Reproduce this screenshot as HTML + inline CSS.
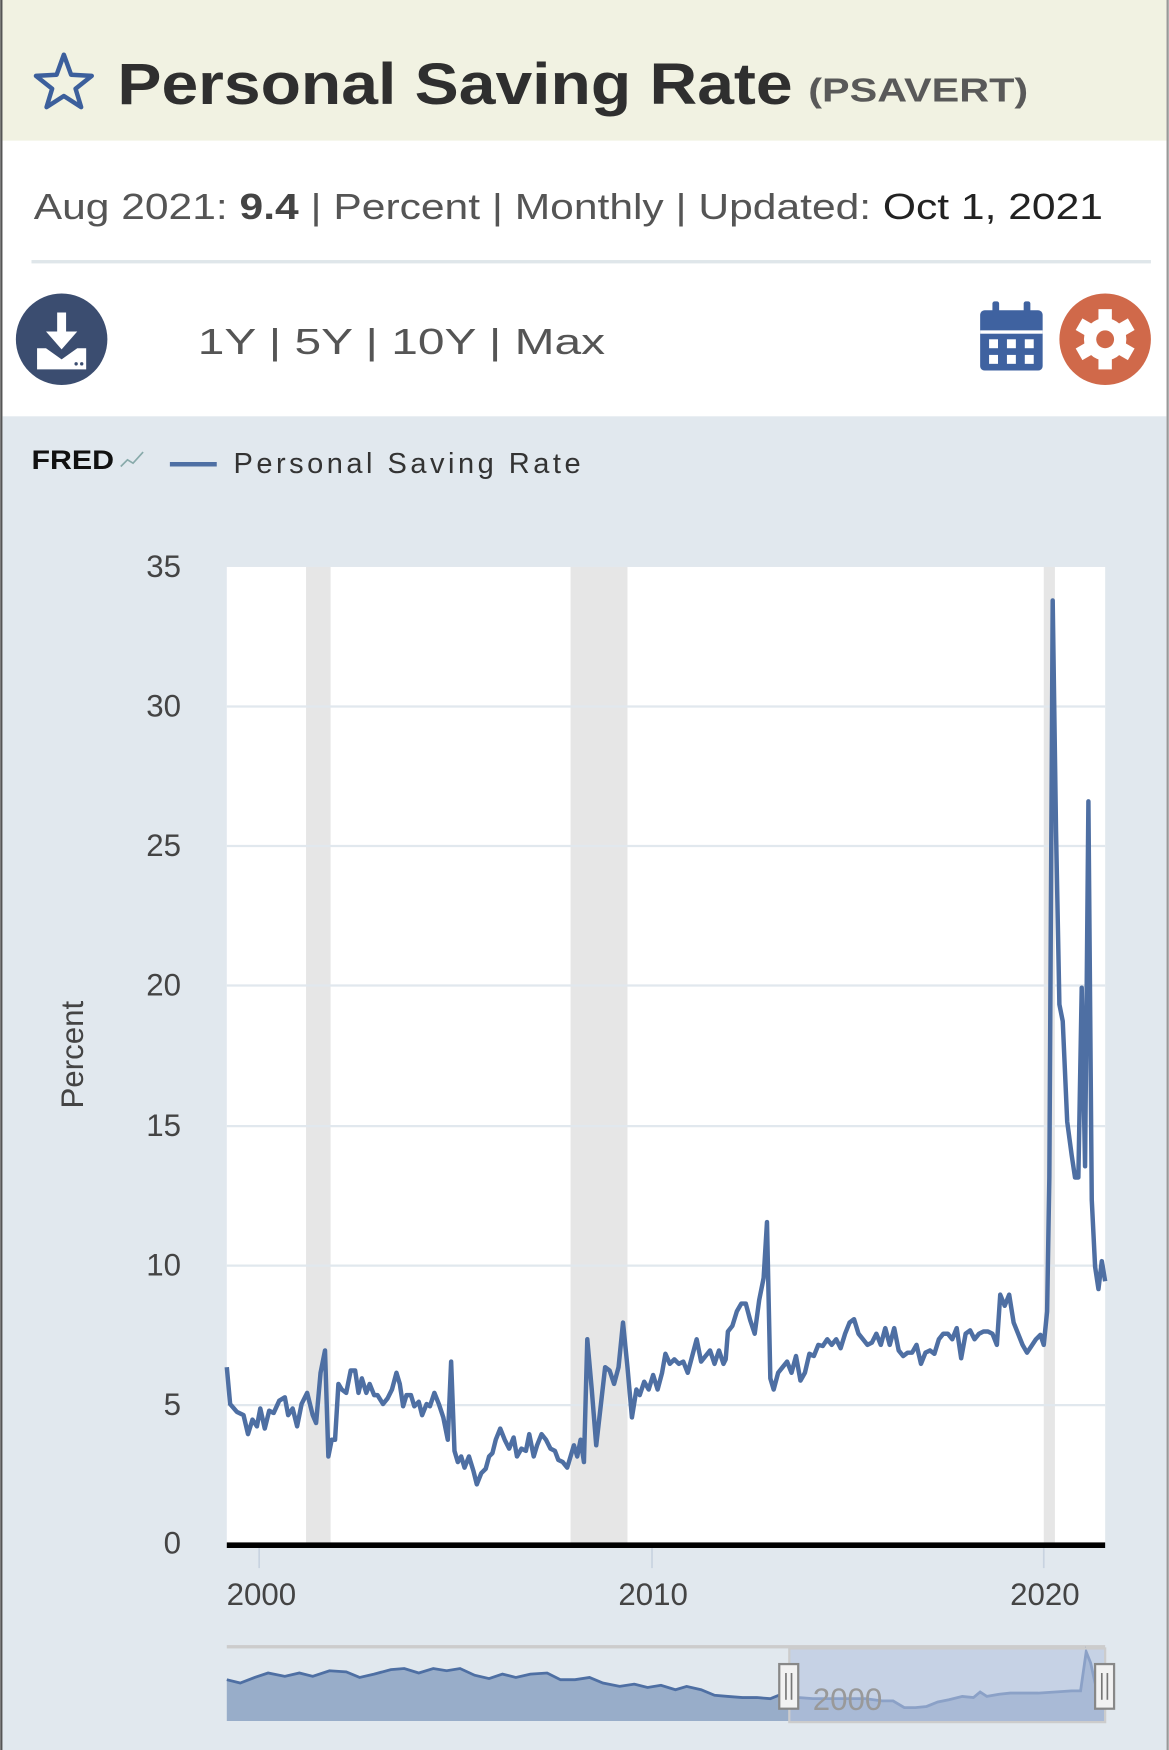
<!DOCTYPE html>
<html><head><meta charset="utf-8"><style>
html,body{margin:0;padding:0;background:#fff;width:1169px;height:1750px;overflow:hidden}
svg{display:block}
text{font-family:"Liberation Sans","DejaVu Sans",sans-serif}
</style></head><body>
<svg width="1169" height="1750" viewBox="0 0 1047 1568" xmlns="http://www.w3.org/2000/svg">
<rect x="0" y="0" width="1047" height="1568" fill="#fff"/>
<rect x="0" y="0" width="1047" height="126" fill="#f1f2e2"/>
<rect x="0" y="0" width="2" height="1568" fill="#555"/>
<rect x="1045" y="0" width="2" height="1568" fill="#999"/>
<polygon points="57,49 63.5,67 82,68 67.5,79.5 72.5,96 57,86 41.5,96 46.5,79.5 32,68 50.5,67" fill="none" stroke="#3c5f9c" stroke-width="4" stroke-linejoin="round"/>
<text x="105" y="93" font-size="52" font-weight="bold" fill="#2f2f2f" textLength="605" lengthAdjust="spacingAndGlyphs">Personal Saving Rate</text>
<text x="724" y="91" font-size="30" font-weight="bold" fill="#595959" textLength="197" lengthAdjust="spacingAndGlyphs">(PSAVERT)</text>
<text x="30" y="196" font-size="32" fill="#555" textLength="958" lengthAdjust="spacingAndGlyphs">Aug 2021: <tspan font-weight="bold" fill="#444">9.4</tspan> | Percent | Monthly | Updated: <tspan fill="#222">Oct 1, 2021</tspan></text>
<rect x="28" y="233" width="1003" height="3" fill="#dfe6ea"/>
<circle cx="55" cy="304" r="41" fill="#3b4d70"/>
<rect x="51" y="280" width="8" height="20" fill="#fff"/>
<polygon points="41,297 69,297 55,313" fill="#fff"/>
<path d="M33,312 L41,312 L55,322 L69,312 L77,312 L77,331 L33,331 Z" fill="#fff"/>
<circle cx="68" cy="326" r="1.5" fill="#3b4d70"/><circle cx="73" cy="326" r="1.5" fill="#3b4d70"/>
<text x="177" y="317" font-size="32" fill="#555" textLength="365" lengthAdjust="spacingAndGlyphs">1Y  |  5Y  |  10Y  |  Max</text>
<rect x="878" y="278" width="56" height="54" rx="4" fill="#3f62a0"/>
<rect x="889" y="270" width="6" height="14" rx="2" fill="#3f62a0"/>
<rect x="917" y="270" width="6" height="14" rx="2" fill="#3f62a0"/>
<rect x="878" y="296" width="56" height="3" fill="#fff"/>
<g fill="#fff"><rect x="886" y="304" width="8" height="8"/><rect x="902" y="304" width="8" height="8"/><rect x="918" y="304" width="8" height="8"/><rect x="886" y="318" width="8" height="8"/><rect x="902" y="318" width="8" height="8"/><rect x="918" y="318" width="8" height="8"/></g>
<circle cx="990" cy="304" r="41" fill="#d0694a"/>
<g fill="#fff" transform="translate(990,304)">
<circle r="19"/>
<rect x="-6" y="-27" width="12" height="54"/>
<rect x="-6" y="-27" width="12" height="54" transform="rotate(60)"/>
<rect x="-6" y="-27" width="12" height="54" transform="rotate(120)"/>
</g>
<circle cx="990" cy="304" r="8" fill="#d0694a"/>
<rect x="2" y="373" width="1043" height="1195" fill="#e1e8ee"/>
<text x="28" y="420" font-size="24" font-weight="bold" fill="#111" textLength="74" lengthAdjust="spacingAndGlyphs">FRED</text>
<polyline points="108,418 114,412 119,415 128,405" fill="none" stroke="#8aa" stroke-width="1.5"/>
<line x1="152" y1="416" x2="194" y2="416" stroke="#4e6fa3" stroke-width="4"/>
<text x="209" y="424" font-size="26" fill="#333" textLength="311" lengthAdjust="spacing">Personal Saving Rate</text>
<rect x="203" y="508" width="787" height="876" fill="#fff"/>
<rect x="274" y="508" width="22" height="876" fill="#e6e6e6"/>
<rect x="511" y="508" width="51" height="876" fill="#e6e6e6"/>
<rect x="935" y="508" width="10" height="876" fill="#e6e6e6"/>
<g stroke="#e1e8ee" stroke-width="2">
<line x1="203" x2="990" y1="1259" y2="1259"/><line x1="203" x2="990" y1="1134" y2="1134"/>
<line x1="203" x2="990" y1="1009" y2="1009"/><line x1="203" x2="990" y1="883" y2="883"/>
<line x1="203" x2="990" y1="758" y2="758"/><line x1="203" x2="990" y1="633" y2="633"/>
</g>
<g font-size="28" fill="#444" text-anchor="end">
<text x="162" y="1392">0</text><text x="162" y="1268">5</text><text x="162" y="1143">10</text>
<text x="162" y="1018">15</text><text x="162" y="892">20</text><text x="162" y="767">25</text>
<text x="162" y="642">30</text><text x="162" y="517">35</text>
</g>
<text x="0" y="0" font-size="28" fill="#444" text-anchor="middle" transform="translate(74,945) rotate(-90)">Percent</text>
<polyline fill="none" stroke="#4e6fa3" stroke-width="4" stroke-linejoin="round" points="203,1225 206,1258 212,1265 218,1268 222,1285 226,1272 230,1278 233,1262 237,1280 241,1264 245,1266 250,1255 255,1252 258,1268 262,1262 266,1278 270,1258 275,1248 280,1268 283,1275 287,1230 291,1210 294,1305 297,1290 300,1290 303,1240 306,1245 310,1248 314,1228 318,1228 321,1248 324,1235 328,1248 331,1240 335,1250 338,1250 343,1258 347,1253 351,1245 355,1230 358,1240 361,1260 364,1250 368,1250 371,1260 375,1256 378,1268 382,1258 385,1260 389,1248 393,1258 397,1270 401,1290 404,1220 407,1300 410,1310 413,1305 416,1315 420,1305 424,1318 427,1330 431,1320 435,1316 438,1305 441,1302 444,1290 448,1280 452,1290 456,1298 460,1288 463,1305 467,1298 471,1300 474,1285 478,1305 481,1295 485,1285 489,1290 493,1298 497,1300 500,1308 504,1310 508,1315 511,1305 514,1295 517,1305 520,1290 523,1310 526,1200 530,1245 534,1295 538,1260 542,1225 546,1228 550,1240 554,1225 558,1185 562,1225 566,1270 570,1245 573,1250 577,1238 581,1245 585,1232 589,1245 593,1230 596,1213 600,1222 604,1218 608,1222 612,1220 616,1230 620,1215 624,1200 628,1220 632,1215 636,1210 640,1222 644,1210 648,1222 650,1218 652,1193 656,1188 660,1175 664,1168 668,1168 672,1183 676,1195 680,1165 684,1145 687,1095 690,1235 693,1245 697,1230 701,1225 705,1220 709,1230 713,1215 717,1237 721,1230 725,1213 729,1215 733,1205 737,1206 741,1200 745,1205 749,1200 753,1208 757,1195 761,1185 765,1182 769,1195 773,1200 777,1205 781,1203 785,1195 789,1205 793,1190 797,1205 801,1190 805,1210 809,1215 813,1212 817,1212 821,1205 825,1222 829,1212 833,1210 837,1213 841,1200 845,1195 849,1195 853,1200 857,1190 861,1217 865,1195 869,1192 873,1200 877,1195 881,1193 885,1193 889,1195 893,1205 896,1160 900,1170 904,1160 908,1185 912,1195 916,1205 920,1212 924,1206 928,1200 932,1196 935,1205 938,1175 940,1055 943,538 946,745 949,900 952,915 956,1005 960,1035 963,1055 966,1055 969,885 972,1045 975,718 978,1075 981,1135 984,1155 987,1130 990,1148"/>
<rect x="203" y="1382" width="787" height="5" fill="#000"/>
<g stroke="#c8d3e0" stroke-width="1.5"><line x1="232" x2="232" y1="1387" y2="1405"/><line x1="584" x2="584" y1="1387" y2="1405"/><line x1="935" x2="935" y1="1387" y2="1405"/></g>
<g font-size="28" fill="#444" text-anchor="middle">
<text x="234" y="1438">2000</text><text x="585" y="1438">2010</text><text x="936" y="1438">2020</text>
</g>
<rect x="203" y="1474" width="787" height="3" fill="#ccc"/>
<path d="M203,1505 L215,1508 L228,1503 L240,1499 L255,1502 L268,1499 L280,1502 L295,1497 L310,1498 L322,1503 L335,1500 L350,1496 L362,1495 L375,1499 L388,1495 L400,1497 L412,1495 L425,1501 L438,1504 L450,1500 L462,1503 L475,1500 L490,1499 L502,1505 L515,1505 L528,1503 L540,1508 L555,1511 L568,1509 L580,1512 L592,1510 L605,1514 L615,1511 L628,1514 L640,1519 L652,1520 L665,1521 L678,1521 L690,1522 L700,1518 L715,1521 L728,1522 L745,1522 L760,1522 L775,1522 L790,1524 L800,1524 L810,1530 L820,1530 L830,1529 L840,1525 L850,1523 L862,1520 L872,1521 L878,1516 L884,1520 L895,1518 L905,1517 L915,1517 L930,1517 L945,1516 L960,1515 L968,1515 L973,1480 L977,1490 L981,1508 L990,1515 L990,1542 L203,1542 Z" fill="#98adc9" stroke="none"/>
<path d="M203,1505 L215,1508 L228,1503 L240,1499 L255,1502 L268,1499 L280,1502 L295,1497 L310,1498 L322,1503 L335,1500 L350,1496 L362,1495 L375,1499 L388,1495 L400,1497 L412,1495 L425,1501 L438,1504 L450,1500 L462,1503 L475,1500 L490,1499 L502,1505 L515,1505 L528,1503 L540,1508 L555,1511 L568,1509 L580,1512 L592,1510 L605,1514 L615,1511 L628,1514 L640,1519 L652,1520 L665,1521 L678,1521 L690,1522 L700,1518 L715,1521 L728,1522 L745,1522 L760,1522 L775,1522 L790,1524 L800,1524 L810,1530 L820,1530 L830,1529 L840,1525 L850,1523 L862,1520 L872,1521 L878,1516 L884,1520 L895,1518 L905,1517 L915,1517 L930,1517 L945,1516 L960,1515 L968,1515 L973,1480 L977,1490 L981,1508 L990,1515" fill="none" stroke="#4e6fa3" stroke-width="2.5"/>
<rect x="707" y="1477" width="283" height="66" fill="#b4c3e0" fill-opacity="0.6" stroke="#ccc" stroke-width="2"/>
<text x="728" y="1532" font-size="28" fill="#999">2000</text>
<rect x="698" y="1491" width="17" height="40" fill="#f2f2f2" stroke="#888" stroke-width="2"/>
<line x1="704" y1="1499" x2="704" y2="1523" stroke="#777" stroke-width="1.5"/><line x1="709" y1="1499" x2="709" y2="1523" stroke="#777" stroke-width="1.5"/>
<rect x="981" y="1491" width="17" height="40" fill="#f2f2f2" stroke="#888" stroke-width="2"/>
<line x1="987" y1="1499" x2="987" y2="1523" stroke="#777" stroke-width="1.5"/><line x1="992" y1="1499" x2="992" y2="1523" stroke="#777" stroke-width="1.5"/>
</svg>
</body></html>
